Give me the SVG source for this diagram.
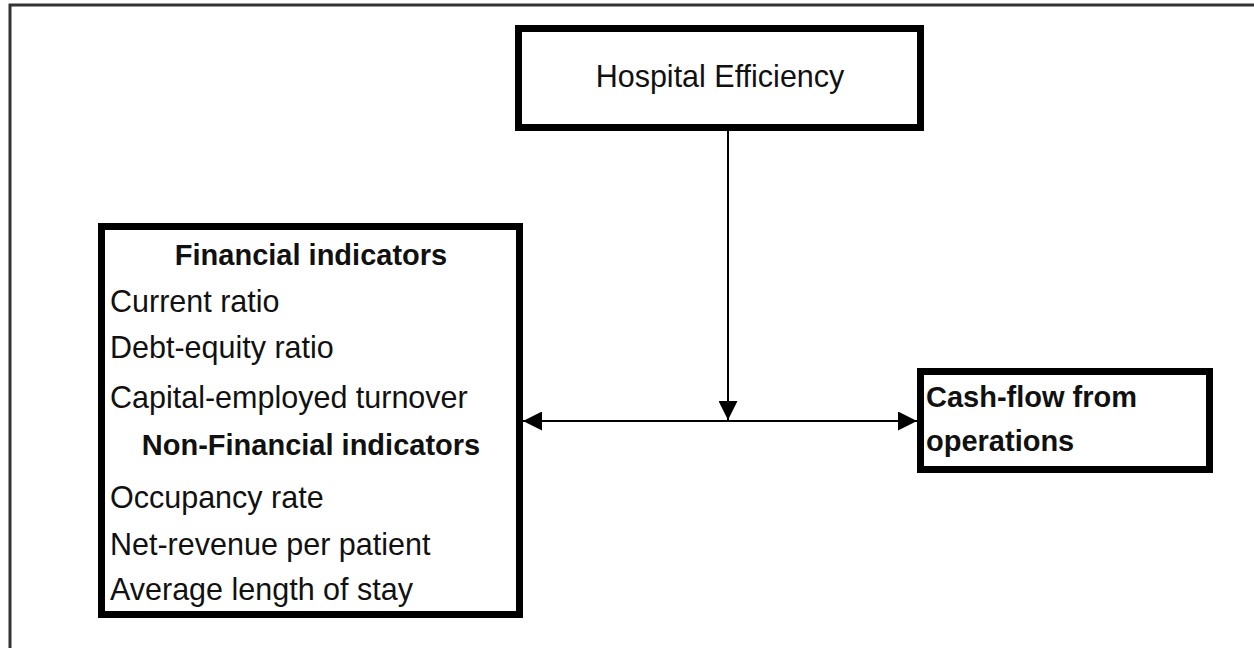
<svg xmlns="http://www.w3.org/2000/svg" width="1254" height="648" viewBox="0 0 1254 648">
<style>
.box{fill:#fff;stroke:#000;stroke-width:7}
.t{font-family:"Liberation Sans",Arial,sans-serif;font-size:30.5px;fill:#111}
.b{font-weight:bold;font-size:29px}
.c{text-anchor:middle}
.ln{stroke:#000;stroke-width:2;fill:none}
</style>
<defs>
<marker id="ah" viewBox="0 0 10 10" refX="10" refY="5" markerWidth="19" markerHeight="19" markerUnits="userSpaceOnUse" orient="auto-start-reverse">
<path d="M0,0 L10,5 L0,10 Z" fill="#000"/>
</marker>
</defs>
<rect width="1254" height="648" fill="#fff"/>
<g id="frame">
<path d="M10,648 L10,5 L1254,5" stroke="#333" stroke-width="3" fill="none"/>
</g>
<g id="hospital">
<rect class="box" x="518.5" y="28.5" width="402" height="99"/>
<text class="t c" x="720" y="87">Hospital Efficiency</text>
</g>
<g id="indicators">
<rect class="box" x="101.5" y="226.5" width="418" height="388"/>
<text class="t b c" x="311" y="265">Financial indicators</text>
<text class="t" x="110" y="312">Current ratio</text>
<text class="t" x="110" y="358">Debt-equity ratio</text>
<text class="t" x="110" y="408">Capital-employed turnover</text>
<text class="t b c" x="311" y="455">Non-Financial indicators</text>
<text class="t" x="110" y="508">Occupancy rate</text>
<text class="t" x="110" y="555">Net-revenue per patient</text>
<text class="t" x="110" y="600">Average length of stay</text>
</g>
<g id="cashflow">
<rect class="box" x="920.5" y="371.5" width="289" height="98"/>
<text class="t b" x="926" y="407">Cash-flow from</text>
<text class="t b" x="926" y="451">operations</text>
</g>
<g id="connectors">
<line class="ln" x1="728" y1="131" x2="728" y2="420" marker-end="url(#ah)"/>
<line class="ln" x1="523" y1="421" x2="917" y2="421" marker-start="url(#ah)" marker-end="url(#ah)"/>
</g>
</svg>
